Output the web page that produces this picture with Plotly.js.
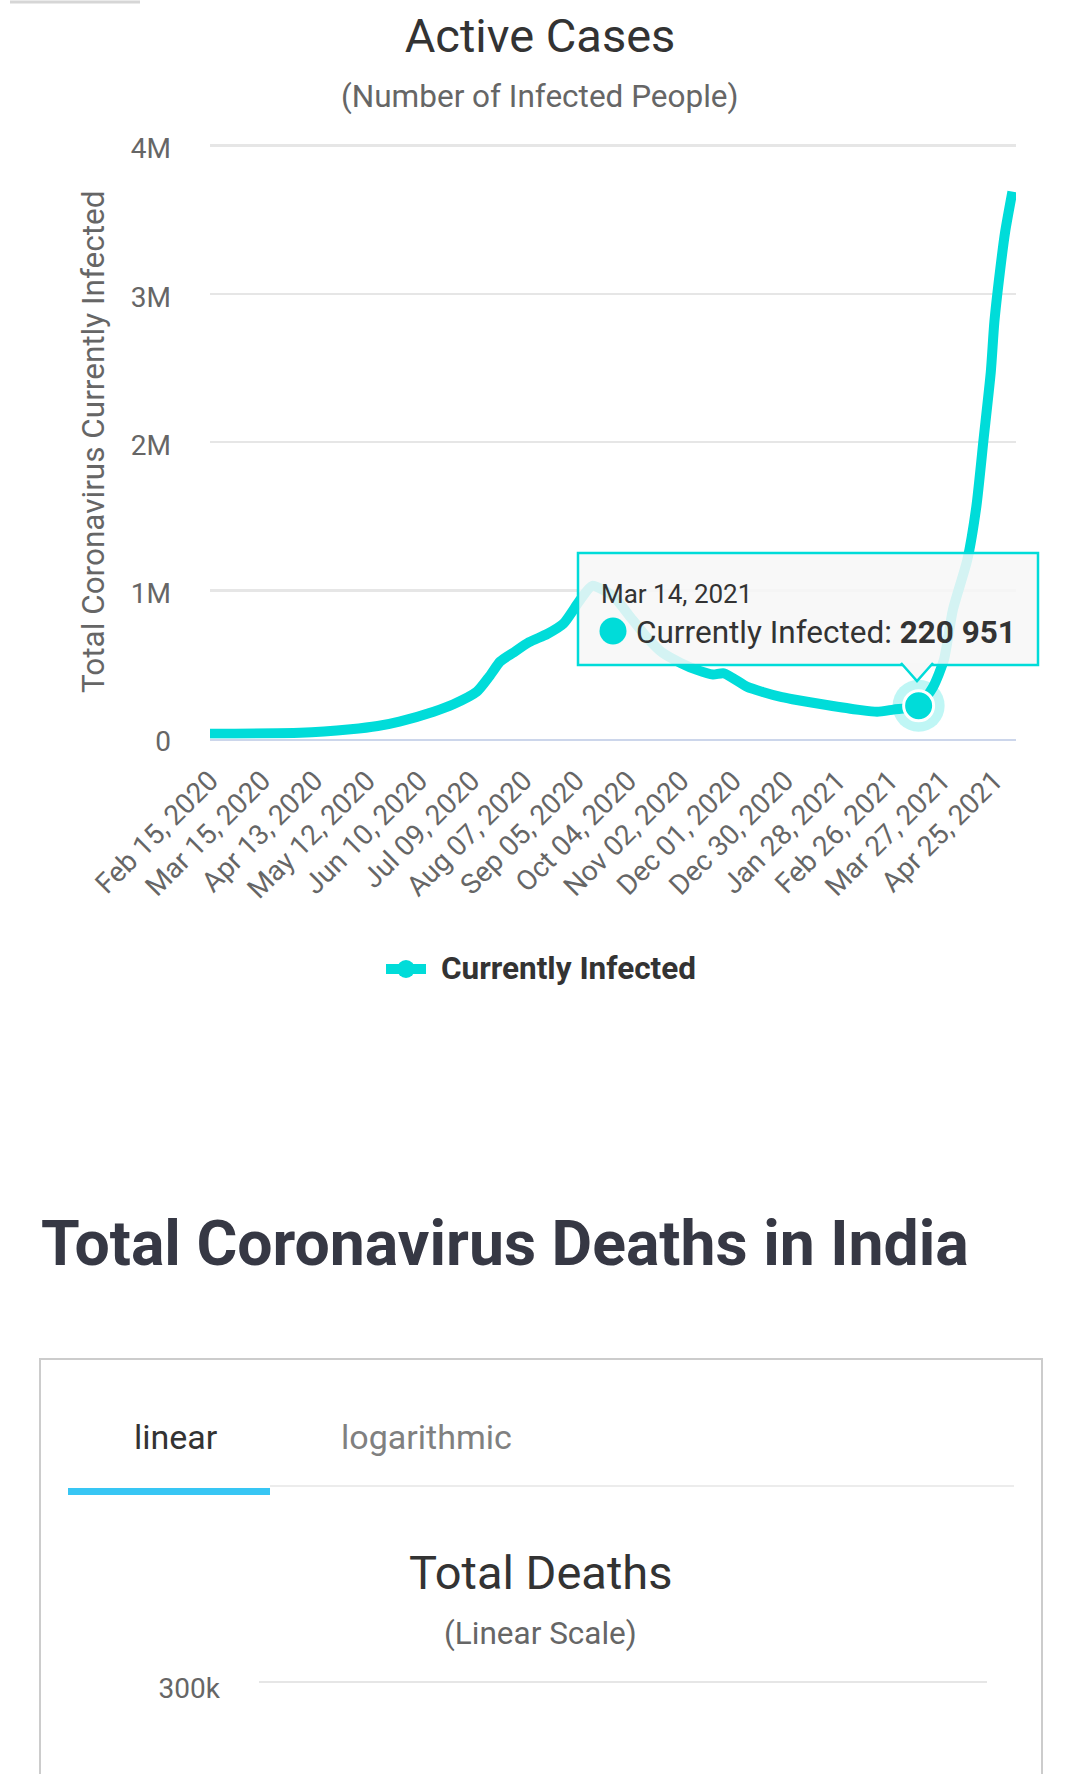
<!DOCTYPE html>
<html>
<head>
<meta charset="utf-8">
<script src="https://cdn.plot.ly/plotly-3.0.1.min.js"></script>
<style>
  html, body { margin: 0; padding: 0; background: #fff; }
  #chart { width: 1080px; height: 1774px; }
</style>
</head>
<body>
<div id="chart"></div>
<script>
// active cases (dates where the curve bends)
const dates = [
  '2020-02-15', '2020-04-05', '2020-05-03', '2020-05-18', '2020-05-30', '2020-06-18',
  '2020-06-29', '2020-07-12', '2020-07-19', '2020-07-25', '2020-08-01', '2020-08-10',
  '2020-08-20', '2020-08-29', '2020-09-07', '2020-09-14', '2020-09-26', '2020-10-05',
  '2020-10-14', '2020-10-23', '2020-11-02', '2020-11-11', '2020-11-20', '2020-11-26',
  '2020-12-09', '2020-12-18', '2020-12-27', '2021-01-03', '2021-01-22', '2021-02-09',
  '2021-02-19', '2021-02-28', '2021-03-14', '2021-03-22', '2021-03-28', '2021-04-02',
  '2021-04-10', '2021-04-15', '2021-04-19', '2021-04-23', '2021-04-25', '2021-04-28',
  '2021-05-01', '2021-05-05'
];
const infected = [
  32000, 38000, 62000, 84000, 114000, 181000,
  231000, 316000, 420000, 520000, 578000, 650000,
  705000, 775000, 930000, 1030000, 956000, 821000,
  686000, 578000, 510000, 463000, 432000, 440000,
  348000, 312000, 282000, 265000, 226000, 193000,
  180000, 195000, 220951, 348000, 530000, 868000,
  1206000, 1564000, 2017000, 2470000, 2810000, 3140000,
  3420000, 3690000
];

const tickDates = [
  '2020-02-15', '2020-03-15', '2020-04-13', '2020-05-12', '2020-06-10', '2020-07-09',
  '2020-08-07', '2020-09-05', '2020-10-04', '2020-11-02', '2020-12-01', '2020-12-30',
  '2021-01-28', '2021-02-26', '2021-03-27', '2021-04-25'
];
const tickLabels = [
  'Feb 15, 2020', 'Mar 15, 2020', 'Apr 13, 2020', 'May 12, 2020', 'Jun 10, 2020', 'Jul 09, 2020',
  'Aug 07, 2020', 'Sep 05, 2020', 'Oct 04, 2020', 'Nov 02, 2020', 'Dec 01, 2020', 'Dec 30, 2020',
  'Jan 28, 2021', 'Feb 26, 2021', 'Mar 27, 2021', 'Apr 25, 2021'
];
const yTicks = [0, 1000000, 2000000, 3000000, 4000000];
const yTickLabels = ['0', '1M', '2M', '3M', '4M'];

const deathTicks = [300000];
const deathTickLabels = ['300k'];

const tipDate = '2021-03-14';

const W = 1080, H = 1774;
const FONT = 'Roboto, "Noto Sans", sans-serif';
const LINE = '#00dcd9';
const px = x => x / W;
const py = y => 1 - y / H;

const months = ['Jan', 'Feb', 'Mar', 'Apr', 'May', 'Jun', 'Jul', 'Aug', 'Sep', 'Oct', 'Nov', 'Dec'];
function tipHeader(d) {
  const [y, m, day] = d.split('-');
  return `${months[parseInt(m) - 1]} ${parseInt(day)}, ${y}`;
}

const tipValue = infected[dates.indexOf(tipDate)];
const tipText = tipValue.toLocaleString('en-US').replace(/,/g, ' ');

const traces = [
  {
    x: dates, y: infected,
    type: 'scatter', mode: 'lines',
    name: 'Currently Infected',
    line: { color: LINE, width: 10, shape: 'spline', smoothing: 0.6 },
    hoverinfo: 'skip'
  },
  // halo + hovered point
  {
    x: [tipDate], y: [tipValue], type: 'scatter', mode: 'markers',
    marker: { color: 'rgba(0,220,217,0.25)', size: 52 }, hoverinfo: 'skip'
  },
  {
    x: [tipDate], y: [tipValue], type: 'scatter', mode: 'markers',
    marker: { color: LINE, size: 30, line: { color: '#fff', width: 3 } }, hoverinfo: 'skip'
  },
  // second chart (only its top gridline is on screen)
  { x: [], y: [], xaxis: 'x2', yaxis: 'y2', type: 'scatter' }
];

function note(text, x, y, size, color, extra) {
  return Object.assign({
    text: text, xref: 'paper', yref: 'paper', x: px(x), y: py(y),
    xanchor: 'center', yanchor: 'middle', showarrow: false,
    font: { family: FONT, size: size, color: color }
  }, extra || {});
}

function box(x0, y0, x1, y1, style) {
  return Object.assign({ type: 'rect', xref: 'paper', yref: 'paper',
    x0: px(x0), x1: px(x1), y0: py(y1), y1: py(y0) }, style);
}

const layout = {
  width: W, height: H,
  margin: { l: 0, r: 0, t: 0, b: 0 },
  paper_bgcolor: '#fff', plot_bgcolor: 'rgba(0,0,0,0)',
  font: { family: FONT, color: '#666' },
  title: {
    text: 'Active Cases', x: 0.5, xanchor: 'center', y: py(36), yanchor: 'middle',
    font: { family: FONT, size: 47, color: '#333' }
  },
  showlegend: false,
  xaxis: {
    type: 'date', domain: [px(210), px(1016)], range: ['2020-02-15', '2021-05-07'],
    tickmode: 'array', tickvals: tickDates, ticktext: tickLabels, tickangle: -45,
    tickfont: { family: FONT, size: 28, color: '#666' }, ticks: '', ticklabelstandoff: 12,
    showgrid: false, zeroline: false, showline: true, linecolor: '#ccd6eb', linewidth: 2.5
  },
  yaxis: {
    // range padded a few px so plotly keeps the 4M gridline (it drops grid at the very edge)
    domain: [py(738.5), py(142.7)], range: [0, 4020000],
    tickmode: 'array', tickvals: yTicks, ticktext: yTickLabels,
    tickfont: { family: FONT, size: 28, color: '#666' }, ticks: '',
    ticklabelstandoff: 38, ticklabelshift: 3,
    gridcolor: '#e6e6e6', gridwidth: 2.5, zeroline: false
  },
  xaxis2: { domain: [px(259), px(987)], anchor: 'y2', range: [0, 1], visible: false },
  yaxis2: {
    domain: [0, py(1679)], anchor: 'x2', range: [255000, 301500],
    tickmode: 'array', tickvals: deathTicks, ticktext: deathTickLabels,
    tickfont: { family: FONT, size: 28, color: '#666' }, ticks: '',
    ticklabelstandoff: 38, ticklabelshift: 6,
    gridcolor: '#e6e6e6', gridwidth: 2.5, zeroline: false
  },
  shapes: [
    // bit of a card peeking at the top left
    { type: 'line', xref: 'paper', yref: 'paper', x0: px(10), x1: px(140), y0: py(2), y1: py(2),
      line: { color: '#d6d6d6', width: 3 } },
    // legend symbol
    { type: 'line', xref: 'paper', yref: 'paper', x0: px(386), x1: px(426), y0: py(969), y1: py(969),
      line: { color: LINE, width: 10 } },
    box(397, 960, 415, 978, { type: 'circle', fillcolor: LINE, line: { width: 0 } }),
    // deaths card border
    { type: 'rect', xref: 'paper', yref: 'paper', x0: px(40), x1: px(1042), y0: -0.05, y1: py(1359),
      line: { color: '#cccccc', width: 2 }, fillcolor: 'rgba(0,0,0,0)', layer: 'below' },
    // tabs
    { type: 'line', xref: 'paper', yref: 'paper', x0: px(270), x1: px(1014), y0: py(1486), y1: py(1486),
      line: { color: '#ececec', width: 2 } },
    box(68, 1488, 270, 1495, { fillcolor: '#38c6f4', line: { width: 0 } }),
    // tooltip box, pointer and bullet
    box(578, 553, 1038, 665, { fillcolor: 'rgba(247,247,247,0.86)', line: { color: LINE, width: 2.5 } }),
    { type: 'path', xref: 'paper', yref: 'paper',
      path: `M ${px(901)} ${py(663)} L ${px(917)} ${py(681)} L ${px(933)} ${py(663)}`,
      fillcolor: '#f7f7f7', line: { color: LINE, width: 2.5 } },
    box(599.5, 617.5, 626.5, 644.5, { type: 'circle', fillcolor: LINE, line: { width: 0 } })
  ],
  annotations: [
    note('(Number of Infected People)', 540, 96, 31.5, '#666'),
    note('Total Coronavirus Currently Infected', 93, 442, 31.5, '#666', { textangle: -90 }),
    note(tipHeader(tipDate), 599, 594, 26, '#333', { xanchor: 'left' }),
    note(`Currently Infected: <b>${tipText}</b>`, 634, 632, 31.5, '#333', { xanchor: 'left' }),
    note(traces[0].name, 439, 969, 31.5, '#333',
      { xanchor: 'left', font: { family: FONT, size: 31.5, color: '#333', weight: 700 } }),
    note('Total Coronavirus Deaths in India', 39, 1243, 62.5, '#363844',
      { xanchor: 'left', font: { family: FONT, size: 62.5, color: '#363844', weight: 700 } }),
    note('linear', 176, 1437, 34, '#333'),
    note('logarithmic', 426, 1437, 34, '#808080'),
    note('Total Deaths', 540, 1572, 47, '#333'),
    note('(Linear Scale)', 540, 1633, 31.5, '#666')
  ]
};

document.addEventListener('DOMContentLoaded', () => {
  Plotly.newPlot('chart', traces, layout, { staticPlot: true, displayModeBar: false });
});
</script>
</body>
</html>
